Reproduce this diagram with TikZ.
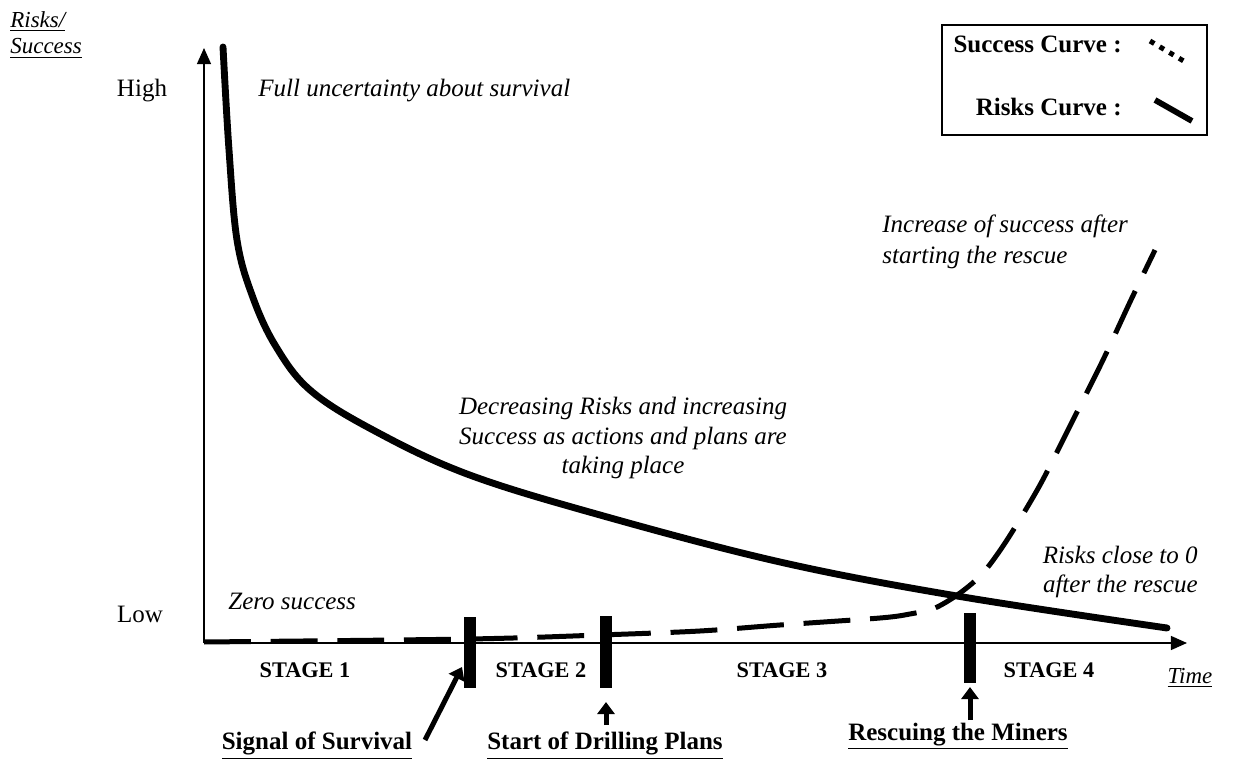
\documentclass[tikz,border=0pt]{standalone}
\usepackage{fontspec}
\setmainfont{Liberation Serif}
\usetikzlibrary{arrows.meta, positioning, calc}

\begin{document}
\begin{tikzpicture}[x=0.48pt, y=-0.48pt, every node/.style={inner sep=0pt},
    note/.style={font=\itshape\fontsize{12}{14}\selectfont, align=center},
    stagelbl/.style={font=\bfseries\fontsize{10.7}{13}\selectfont},
    eventlbl/.style={font=\bfseries\fontsize{12}{15}\selectfont},
    legtxt/.style={font=\bfseries\fontsize{12}{14}\selectfont, anchor=east},
    axisline/.style={line width=0.7pt, -{Triangle[length=7.7pt, width=6.7pt]}},
    riskline/.style={line width=3.3pt, line cap=round},
    succline/.style={line width=2.4pt, dash pattern=on 22.5pt off 9.5pt},
    stagebar/.style={line width=5.3pt},
    evarrow/.style={line width=2.4pt, -{Triangle[length=5.8pt, width=8.2pt]}}]
    \useasboundingbox (0,0) rectangle (1237,761);

    % axes
    \coordinate (O) at (204,643);
    \coordinate (ytop) at (204,48);
    \coordinate (xend) at (1187,643);
    \draw[axisline] (O) -- (ytop);
    \draw[axisline] (O) -- (xend);
    \node[font=\itshape\fontsize{11}{12.5}\selectfont, align=left, anchor=west] (ylbl) at (10,35)
        {\underline{Risks/}\\ \underline{Success}};
    \node[font=\fontsize{12}{14}\selectfont, anchor=base] (high) at (142,97) {High};
    \node[font=\fontsize{12}{14}\selectfont, anchor=base] (low) at (140,622) {Low};
    \node[font=\itshape\fontsize{11}{13}\selectfont] (time) at (1190,678) {\underline{Time}};

    % curves
    \draw[riskline] plot[smooth, tension=0.6] coordinates {(223,47) (229,150) (237,240)
        (252,295) (275,345) (310,390) (373,430) (467,474) (600,515) (780,562) (957,596)
        (1167,628)};
    \draw[succline] plot[smooth, tension=0.5] coordinates {(204,642) (470,639) (600,635)
        (700,631) (780,625) (880,618) (910,614) (935,608) (960,593) (983,573) (1007,540)
        (1040,485) (1073,420) (1103,360) (1130,302) (1155,250)};

    % notes
    \node[note, anchor=base west] (full) at (258,97) {Full uncertainty about survival};
    \node[note, anchor=base west] (zero) at (228,610) {Zero success};
    \node[note] (decr) at (623,438) {Decreasing Risks and increasing\\ Success as actions and plans are\\ taking place};
    \node[note, align=left, anchor=west, font=\itshape\fontsize{12}{15}\selectfont] (incr) at (882,242)
        {Increase of success after\\ starting the rescue};
    \node[note, align=right, anchor=east] (close) at (1198,572) {Risks close to 0\\ after the rescue};

    % stages
    \foreach \x/\t in {305/1, 541/2, 782/3, 1049/4}
        \node[stagelbl] (st\t) at (\x,670) {STAGE \t};
    \coordinate (b1a) at (470,617); \coordinate (b1b) at (470,688);
    \coordinate (b2a) at (606,616); \coordinate (b2b) at (606,688);
    \coordinate (b3a) at (970,613); \coordinate (b3b) at (970,683);
    \draw[stagebar] (b1a) -- (b1b);
    \draw[stagebar] (b2a) -- (b2b);
    \draw[stagebar] (b3a) -- (b3b);

    % events
    \node[eventlbl, anchor=base] (signal) at (317,750) {\underline{Signal of Survival}};
    \node[eventlbl, anchor=base] (drill) at (605,750) {\underline{Start of Drilling Plans}};
    \node[eventlbl, anchor=base] (rescue) at (958,740) {\underline{Rescuing the Miners}};
    \coordinate (a1) at (425,740); \coordinate (a1t) at (462,667);
    \coordinate (a2) at (606,725); \coordinate (a2t) at (606,702);
    \coordinate (a3) at (970,720); \coordinate (a3t) at (970,687);
    \draw[evarrow] (a1) -- (a1t);
    \draw[evarrow] (a2) -- (a2t);
    \draw[evarrow] (a3) -- (a3t);

    % legend
    \draw[line width=0.8pt] (942,25) rectangle (1207,135);
    \node[legtxt] (lsucc) at (1122,44) {Success Curve :};
    \node[legtxt] (lrisk) at (1122,107) {Risks Curve :};
    \coordinate (ds1) at (1150,41); \coordinate (ds2) at (1187,63);
    \coordinate (dr1) at (1155,100); \coordinate (dr2) at (1192,121);
    \draw[line width=2.4pt, dash pattern=on 2.4pt off 3pt] (ds1) -- (ds2);
    \draw[line width=2.8pt] (dr1) -- (dr2);
\end{tikzpicture}
\end{document}
